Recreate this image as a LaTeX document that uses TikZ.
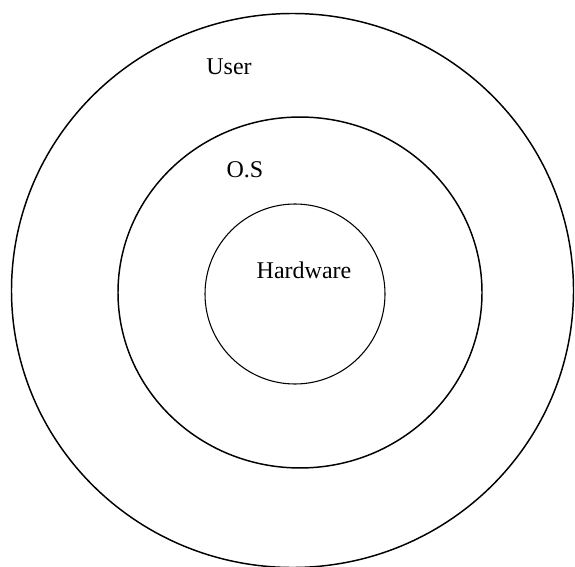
\documentclass[tikz,border=0pt]{standalone}
\usepackage{fontspec}
\setmainfont{Liberation Serif}
\usetikzlibrary{positioning}
\tikzset{
  ring/.style={draw, line width=1.1pt},
  core/.style={draw, line width=0.8pt},
  lbl/.style={font=\fontsize{18}{20}\selectfont, inner sep=0pt}}

\begin{document}
\begin{tikzpicture}[x=0.75pt,y=-0.75pt]
\useasboundingbox (0,0) rectangle (575,567);
\coordinate (cu) at (292.5,290.5);
\coordinate (co) at (300,292.5);
\coordinate (ch) at (295,294);
\draw [ring] (cu) ellipse [x radius=210.75pt, y radius=207.75pt];
\draw [ring] (co) ellipse [x radius=136.5pt, y radius=131.6pt];
\draw [core] (ch) circle (67.5pt);
\node [lbl] (user) at (229,67) {User};
\node [lbl] (os) at (245,170) {O.S};
\node [lbl] (hw) at (304,270) {Hardware};
\end{tikzpicture}
\end{document}
